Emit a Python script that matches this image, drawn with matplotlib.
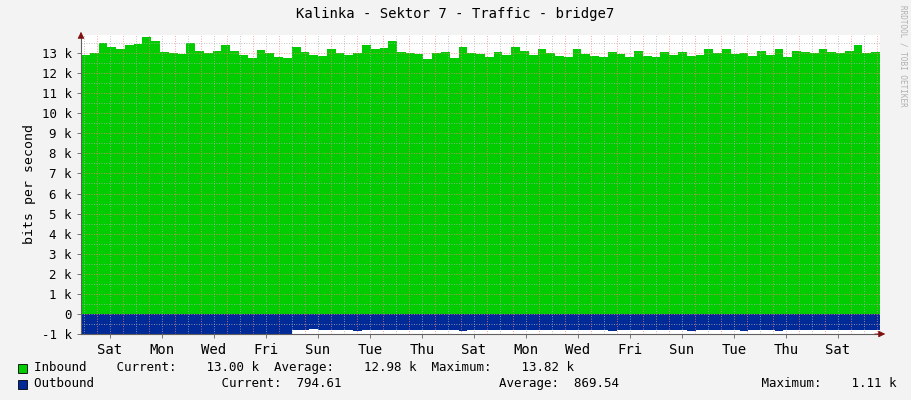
import numpy as np
import matplotlib.pyplot as plt
import matplotlib.patches as mpatches

# ── Data (values in bits/s, ~8h steps over ~30.7 days) ─────────────────────
inbound = [12.9, 13.0, 13.5, 13.3, 13.2, 13.4, 13.45, 13.8, 13.6, 13.05, 13.0, 12.95,
           13.5, 13.1, 13.0, 13.1, 13.4, 13.1, 12.9, 12.75, 13.15, 13.0, 12.8, 12.75,
           13.3, 13.05, 12.9, 12.85, 13.2, 13.0, 12.9, 13.0, 13.4, 13.2, 13.25, 13.6,
           13.05, 13.0, 12.95, 12.7, 13.0, 13.05, 12.75, 13.3, 13.0, 12.95, 12.8, 13.05,
           12.9, 13.3, 13.1, 12.9, 13.2, 13.0, 12.85, 12.8, 13.2, 12.95, 12.85, 12.8,
           13.05, 12.95, 12.8, 13.1, 12.85, 12.8, 13.05, 12.9, 13.05, 12.85, 12.9, 13.2,
           13.0, 13.2, 12.95, 13.0, 12.85, 13.1, 12.9, 13.2, 12.8, 13.1, 13.05, 13.0,
           13.2, 13.05, 13.0, 13.1, 13.4, 13.0, 13.05]
outbound = [1.0] * 24 + [0.82, 0.78, 0.76, 0.78, 0.8, 0.8, 0.8, 0.85, 0.8, 0.8, 0.8,
            0.8, 0.8, 0.8, 0.8, 0.8, 0.8, 0.8, 0.8, 0.85, 0.8, 0.8, 0.8, 0.8, 0.8,
            0.8, 0.8, 0.8, 0.8, 0.8, 0.8, 0.8, 0.8, 0.8, 0.8, 0.8, 0.85, 0.8, 0.8,
            0.8, 0.8, 0.8, 0.8, 0.8, 0.8, 0.85, 0.8, 0.8, 0.8, 0.8, 0.8, 0.85, 0.8,
            0.8, 0.8, 0.85, 0.8, 0.8, 0.8, 0.8, 0.8, 0.8, 0.8, 0.8, 0.8, 0.8, 0.8]
day_labels = ['Sat', 'Mon', 'Wed', 'Fri', 'Sun', 'Tue', 'Thu', 'Sat',
              'Mon', 'Wed', 'Fri', 'Sun', 'Tue', 'Thu', 'Sat']

SPAN = 30.73          # days shown
FIRST_MIDNIGHT = 0.615

inb = np.array(inbound) * 1000
outb = -np.array(outbound[:len(inbound)]) * 1000
t = np.linspace(0, SPAN, len(inb) + 1)

plt.rcParams['font.family'] = 'DejaVu Sans Mono'
fig = plt.figure(figsize=(9.11, 4.0), dpi=100, facecolor='#F3F3F3')
ax = fig.add_axes([81 / 911, 66 / 400, 799 / 911, 299 / 400])
ax.set_facecolor('white')

ax.stairs(inb, t, fill=True, color='#00CC00', zorder=1)
ax.stairs(outb, t, fill=True, color='#002A97', zorder=1)

ax.set_xlim(0, SPAN)
ax.set_ylim(-1000, 13900)

# grid
midnights = np.arange(FIRST_MIDNIGHT, SPAN, 1.0)
noons = midnights - 0.5
noons = noons[noons > 0]
for x in midnights:
    ax.axvline(x, color='#FF8080', lw=0.6, ls=(0, (1, 2)), zorder=2)
for x in np.append(noons, midnights[-1] + 0.5):
    ax.axvline(x, color='#B0B0B0', lw=0.6, ls=(0, (1, 2)), zorder=2)
for y in np.arange(-1000, 14000, 1000):
    ax.axhline(y, color='#FF8080', lw=0.6, ls=(0, (1, 2)), zorder=2)
for y in np.arange(-500, 14000, 1000):
    ax.axhline(y, color='#B0B0B0', lw=0.6, ls=(0, (1, 2)), zorder=2)

yt = np.arange(-1000, 14000, 1000)
ax.set_yticks(yt)
ax.set_yticklabels(['-1 k', '0'] + [f'{v // 1000} k' for v in yt[2:]], fontsize=9)
lab_pos = [FIRST_MIDNIGHT + 0.5 + 2 * i for i in range(len(day_labels))]
ax.set_xticks(lab_pos)
ax.set_xticklabels(day_labels, fontsize=9)
ax.tick_params(length=3, width=0.6, color='#606060')
for s in ['top', 'right']:
    ax.spines[s].set_visible(False)
for s in ['left', 'bottom']:
    ax.spines[s].set_color('#606060')
ax.spines['bottom'].set_position(('data', -1000))
ax.annotate('', xy=(0, 1.02), xytext=(0, 0.99), xycoords='axes fraction',
            arrowprops=dict(arrowstyle='-|>', color='#7F1010', lw=0.6))
ax.annotate('', xy=(1.01, 0), xytext=(0.99, 0), xycoords='axes fraction',
            arrowprops=dict(arrowstyle='-|>', color='#7F1010', lw=0.6))

ax.set_ylabel('bits per second', fontsize=9.5)
fig.text(455 / 911, 1 - 14 / 400, 'Kalinka - Sektor 7 - Traffic - bridge7',
         ha='center', va='center', fontsize=10)
fig.text(903 / 911, 0.86, 'RRDTOOL / TOBI OETIKER', rotation=270, fontsize=5.5,
         color='#B0B0B0', ha='center', va='center')

# legend
for y, col in [(368, '#00CC00'), (384, '#002A97')]:
    fig.patches.append(mpatches.Rectangle((18 / 911, 1 - (y + 5) / 400), 9 / 911, 9 / 400,
                                          transform=fig.transFigure, facecolor=col,
                                          edgecolor='black', lw=0.6))
fig.text(34 / 911, 1 - 368 / 400,
         'Inbound    Current:    13.00 k  Average:    12.98 k  Maximum:    13.82 k',
         fontsize=9, va='center')
fig.text(34 / 911, 1 - 384 / 400,
         'Outbound                 Current:  794.61                     Average:  869.54'
         '                   Maximum:    1.11 k', fontsize=9, va='center')

fig.savefig('out.png', dpi=100, facecolor=fig.get_facecolor())
